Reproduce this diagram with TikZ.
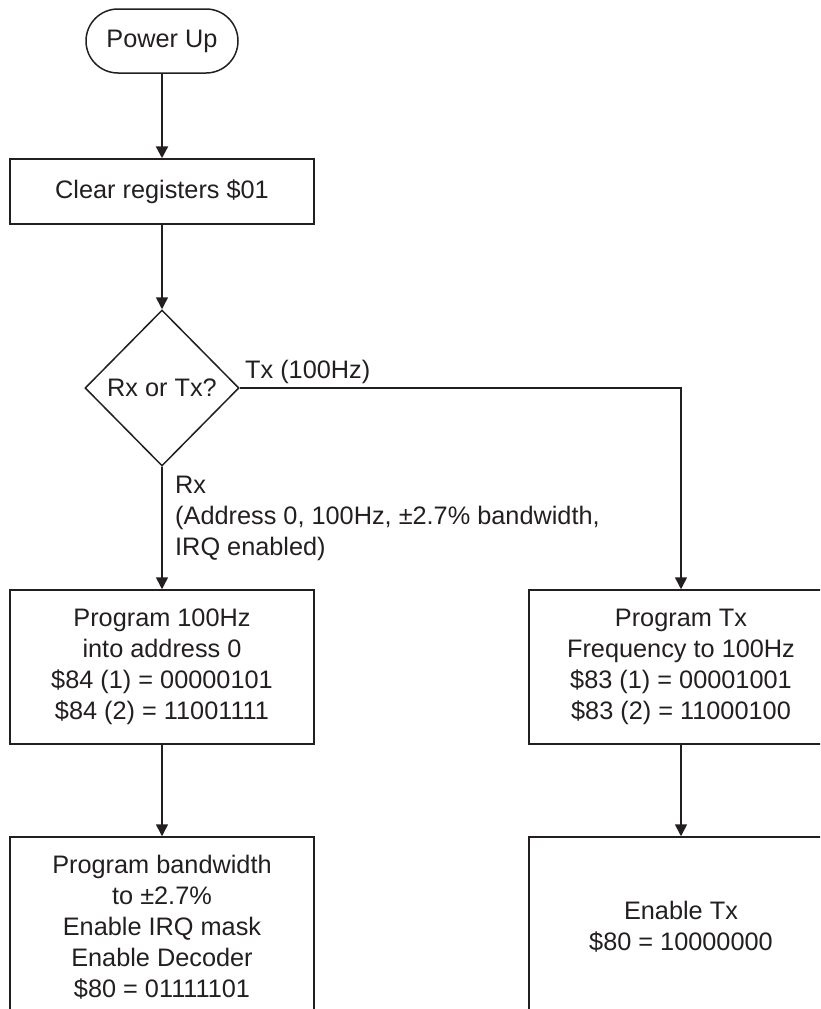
\documentclass[tikz,border=0pt]{standalone}
\usepackage{fontspec}
\setmainfont{Liberation Sans}
\usetikzlibrary{arrows.meta,shapes.geometric}
\definecolor{ink}{RGB}{35,31,32}
\begin{document}
\begin{tikzpicture}[x=1pt,y=-1pt,
  every node/.style={font=\fontsize{25.3}{31}\selectfont, text=ink},
  box/.style={draw=ink, line width=1.5pt, rectangle, minimum width=304pt, align=center, inner sep=0pt},
  conn/.style={draw=ink, line width=1.5pt, -{Triangle[length=12pt,width=12pt]}},
]
\useasboundingbox (0,0) rectangle (820,1009);
\clip (0,0) rectangle (820,1009);

\node[draw=ink, line width=1.5pt, rounded corners=32pt, minimum width=152pt, minimum height=64pt, inner sep=0pt] (pu) at (162,41) {Power Up};
\node[box, minimum height=65pt] (clr) at (162,191.5) {Clear registers \$01};
\node[diamond, draw=ink, line width=1.5pt, minimum width=154pt, minimum height=156pt, inner sep=0pt] (dec) at (162,388) {Rx or Tx?};
\node[box, minimum height=154pt] (rxp) at (162,667) {Program 100Hz\\into address 0\\\$84 (1) = 00000101\\\$84 (2) = 11001111};
\node[box, minimum height=154pt] (txp) at (681,667) {Program Tx\\Frequency to 100Hz\\\$83 (1) = 00001001\\\$83 (2) = 11000100};
\node[box, minimum height=180pt] (rxe) at (162,927) {Program bandwidth\\to ±2.7\%\\Enable IRQ mask\\Enable Decoder\\\$80 = 01111101};
\node[box, minimum height=180pt] (txe) at (681,927) {Enable Tx\\\$80 = 10000000};

\node[anchor=base west, inner sep=0pt] (txl) at (245,378) {Tx (100Hz)};
\node[anchor=base west, inner sep=0pt, align=left] (rxl) at (175,555) {Rx\\(Address 0, 100Hz, ±2.7\% bandwidth,\\IRQ enabled)};

\draw[conn, line width=2.3pt] (pu) -- (clr);
\draw[conn] (clr) -- (dec);
\draw[conn] (dec.south) -- (rxp.north);
\draw[conn] (dec.east) -| (txp.north);
\draw[conn] (rxp) -- (rxe);
\draw[conn] (txp) -- (txe);
\end{tikzpicture}
\end{document}
